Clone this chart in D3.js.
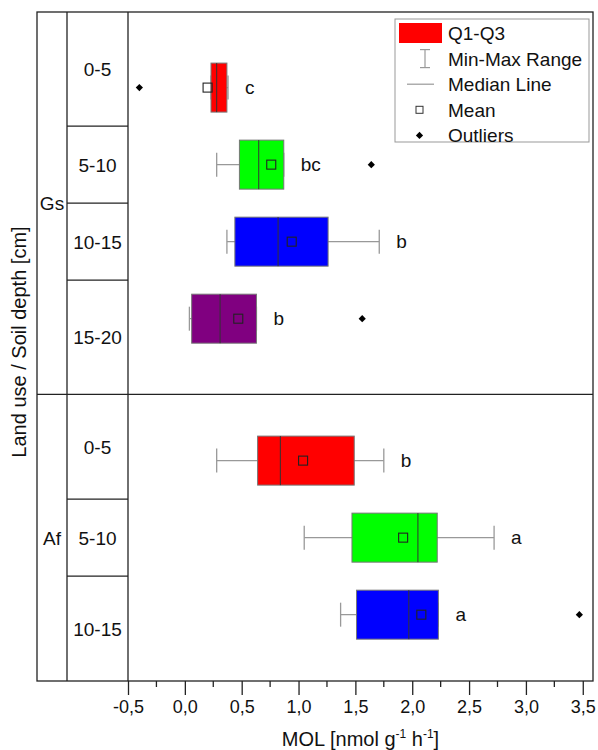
<!DOCTYPE html>
<html>
<head>
<meta charset="utf-8">
<script src="https://cdn.jsdelivr.net/npm/d3@7"></script>
<style>
  body { margin:0; background:#fff; }
  text { font-family: Arial, "Liberation Sans", sans-serif; fill:#111; }
</style>
</head>
<body>
<svg id="chart"></svg>
<script>
// values, one entry per row (top to bottom)
var landUse   = ["Gs","Gs","Gs","Gs","Af","Af","Af"];
var depths    = ["0-5","5-10","10-15","15-20","0-5","5-10","10-15"];
var minVals   = [0.23, 0.28, 0.37, 0.04, 0.28, 1.05, 1.37];
var q1Vals    = [0.23, 0.48, 0.44, 0.06, 0.64, 1.47, 1.51];
var medVals   = [0.28, 0.65, 0.82, 0.31, 0.84, 2.05, 1.97];
var q3Vals    = [0.37, 0.87, 1.26, 0.63, 1.49, 2.22, 2.23];
var maxVals   = [0.38, 0.87, 1.71, 0.63, 1.75, 2.72, 2.23];
var meanVals  = [0.20, 0.76, 0.94, 0.47, 1.04, 1.92, 2.08];
var outliers  = [[-0.40],[1.64],[],[1.56],[],[],[3.47]];
var letters   = ["c","bc","b","b","b","a","a"];
var groups    = ["Gs","Af"];
var xTicks    = [-0.5,0,0.5,1,1.5,2,2.5,3,3.5];
var legendLabels = ["Q1-Q3","Min-Max Range","Median Line","Mean","Outliers"];

var boxColors = ["#ff0000","#00ff00","#0000ff","#800080","#ff0000","#00ff00","#0000ff"];

var w = 598, h = 750;
var margins = {left:128, right:5, top:12, bottom:69};
var frameLeft = 37, groupCol = 67;
var plotH = h - margins.top - margins.bottom;

var svg = d3.select("svg#chart")
            .attr("width",w)
            .attr("height",h);

var xScale = d3.scaleLinear()
               .domain([-0.5,3.59])
               .range([margins.left, w-margins.right]);

// rows: each group gets height proportional to its row count,
// boxes spaced evenly and centred inside the group
var rowUnit = plotH/depths.length;
var step = rowUnit*0.806;
var rows = [];
var groupInfo = [];
var cursor = margins.top;
groups.forEach(function(g){
  var idx = d3.range(depths.length).filter(function(i){ return landUse[i]===g; });
  var gh = idx.length*rowUnit;
  var mid = cursor + gh/2;
  idx.forEach(function(i,k){
    rows[i] = mid + (k-(idx.length-1)/2)*step;
  });
  groupInfo.push({name:g, y0:cursor, y1:cursor+gh, idx:idx});
  cursor += gh;
});
var boxH = 49;

var data = depths.map(function(d,i){
  return {i:i, depth:d, min:minVals[i], q1:q1Vals[i], med:medVals[i],
          q3:q3Vals[i], max:maxVals[i], mean:meanVals[i],
          out:outliers[i], letter:letters[i], color:boxColors[i], y:rows[i]};
});

var loc = d3.formatLocale({decimal:",", thousands:".", grouping:[3], currency:["",""], minus:"-"});
var fmt = loc.format(".1f");

// x axis
var xAxis = d3.axisBottom(xScale)
              .tickValues(xTicks)
              .tickSize(14)
              .tickPadding(5)
              .tickFormat(fmt);
var ax = svg.append("g")
            .classed("xAxis",true)
            .attr("transform","translate(0,"+(margins.top+plotH)+")")
            .call(xAxis);
ax.select(".domain").remove();
ax.selectAll(".tick line").attr("stroke","#222").attr("stroke-width",1.3);
ax.selectAll(".tick text").style("font-size","18px").attr("fill","#111");

ax.selectAll("line.minor")
  .data(xTicks.slice(0,-1).map(function(d){ return d+0.25; }))
  .enter()
  .append("line")
  .classed("minor",true)
  .attr("x1",function(d){ return xScale(d); })
  .attr("x2",function(d){ return xScale(d); })
  .attr("y1",0)
  .attr("y2",6)
  .attr("stroke","#222")
  .attr("stroke-width",1.3);

// frame and category table
var frame = svg.append("g").classed("frame",true)
               .attr("stroke","#222").attr("stroke-width",1.3).attr("fill","none");
var yTop = margins.top, yBot = margins.top+plotH, xRight = w-margins.right;
frame.append("rect")
     .attr("x",frameLeft).attr("y",yTop)
     .attr("width",xRight-frameLeft).attr("height",plotH);
[groupCol, margins.left].forEach(function(x){
  frame.append("line").attr("x1",x).attr("x2",x).attr("y1",yTop).attr("y2",yBot);
});
groupInfo.slice(1).forEach(function(g){
  frame.append("line").attr("x1",frameLeft).attr("x2",xRight).attr("y1",g.y0).attr("y2",g.y0);
});

// depth cell borders sit between neighbouring boxes
var cells = [];
groupInfo.forEach(function(g){
  g.idx.forEach(function(i,k){
    var a = k===0 ? g.y0 : (rows[i]+rows[g.idx[k-1]])/2;
    var b = k===g.idx.length-1 ? g.y1 : (rows[i]+rows[g.idx[k+1]])/2;
    cells.push({i:i, y0:a, y1:b});
    if(k>0){
      frame.append("line").attr("x1",groupCol).attr("x2",margins.left).attr("y1",a).attr("y2",a);
    }
  });
});

svg.selectAll("text.depth")
   .data(cells)
   .enter()
   .append("text")
   .classed("depth",true)
   .attr("x",(groupCol+margins.left)/2)
   .attr("y",function(d){ return (d.y0+d.y1)/2+7; })
   .attr("text-anchor","middle")
   .style("font-size","19px")
   .text(function(d){ return depths[d.i]; });

svg.selectAll("text.group")
   .data(groupInfo)
   .enter()
   .append("text")
   .classed("group",true)
   .attr("x",(frameLeft+groupCol)/2)
   .attr("y",function(d){ return (d.y0+d.y1)/2+7; })
   .attr("text-anchor","middle")
   .style("font-size","19px")
   .text(function(d){ return d.name; });

// boxes
var plot = svg.append("g").classed("plot",true);
var boxes = plot.selectAll("g.box")
                .data(data)
                .enter()
                .append("g")
                .classed("box",true);

boxes.append("line")
     .attr("x1",function(d){ return xScale(d.min); })
     .attr("x2",function(d){ return xScale(d.max); })
     .attr("y1",function(d){ return d.y; })
     .attr("y2",function(d){ return d.y; })
     .attr("stroke","#999").attr("stroke-width",1.3);
boxes.selectAll("line.cap")
     .data(function(d){ return [{v:d.min,y:d.y},{v:d.max,y:d.y}]; })
     .enter()
     .append("line")
     .classed("cap",true)
     .attr("x1",function(d){ return xScale(d.v); })
     .attr("x2",function(d){ return xScale(d.v); })
     .attr("y1",function(d){ return d.y-12; })
     .attr("y2",function(d){ return d.y+12; })
     .attr("stroke","#999").attr("stroke-width",1.3);

boxes.append("rect")
     .attr("x",function(d){ return xScale(d.q1); })
     .attr("y",function(d){ return d.y-boxH/2; })
     .attr("width",function(d){ return xScale(d.q3)-xScale(d.q1); })
     .attr("height",boxH)
     .attr("fill",function(d){ return d.color; })
     .attr("stroke","#777").attr("stroke-width",1);

boxes.append("line")
     .attr("x1",function(d){ return xScale(d.med); })
     .attr("x2",function(d){ return xScale(d.med); })
     .attr("y1",function(d){ return d.y-boxH/2; })
     .attr("y2",function(d){ return d.y+boxH/2; })
     .attr("stroke","#333").attr("stroke-width",1);

boxes.append("rect")
     .attr("x",function(d){ return xScale(d.mean)-4.5; })
     .attr("y",function(d){ return d.y-4.5; })
     .attr("width",9).attr("height",9)
     .attr("fill","none")
     .attr("stroke","#222").attr("stroke-width",1.1);

// outlier marker: a small square turned 45 degrees
var diamond = d3.symbol().type(d3.symbolSquare).size(26);
boxes.selectAll("path.outlier")
     .data(function(d){ return d.out.map(function(v){ return {v:v,y:d.y}; }); })
     .enter()
     .append("path")
     .classed("outlier",true)
     .attr("d",diamond)
     .attr("transform",function(d){ return "translate("+xScale(d.v)+","+d.y+") rotate(45)"; })
     .attr("fill","#000");

boxes.append("text")
     .attr("x",function(d){ return xScale(Math.max(d.max,d.q3))+17; })
     .attr("y",function(d){ return d.y+6; })
     .style("font-size","19px")
     .text(function(d){ return d.letter; });

// legend
var legend = svg.append("g").classed("legend",true);
legend.append("rect")
      .attr("x",395).attr("y",19).attr("width",194).attr("height",123)
      .attr("fill","#fff").attr("stroke","#999").attr("stroke-width",1);
var legendLines = legend.selectAll("g.legendLines")
                        .data(legendLabels)
                        .enter()
                        .append("g")
                        .classed("legendLines",true)
                        .attr("transform",function(d,i){ return "translate(0,"+(33+25.6*i)+")"; });
legendLines.append("text")
           .attr("x",448).attr("y",7)
           .style("font-size","19px")
           .text(function(d){ return d; });
legend.select(".legendLines:nth-child(2)")
      .append("rect")
      .attr("x",399).attr("y",-10).attr("width",43).attr("height",20)
      .attr("fill","#ff0000");
var mm = legend.select(".legendLines:nth-child(3)")
               .append("g").attr("stroke","#999").attr("stroke-width",1.2);
mm.append("line").attr("x1",425).attr("x2",425).attr("y1",-9).attr("y2",9);
mm.append("line").attr("x1",420).attr("x2",430).attr("y1",-9).attr("y2",-9);
mm.append("line").attr("x1",420).attr("x2",430).attr("y1",9).attr("y2",9);
legend.select(".legendLines:nth-child(4)")
      .append("line").attr("x1",407).attr("x2",434).attr("y1",0).attr("y2",0)
      .attr("stroke","#999").attr("stroke-width",1.2);
legend.select(".legendLines:nth-child(5)")
      .append("rect").attr("x",416).attr("y",-3.5).attr("width",7).attr("height",7)
      .attr("fill","none").attr("stroke","#333").attr("stroke-width",1);
legend.select(".legendLines:nth-child(6)")
      .append("path").attr("d",diamond).attr("transform","translate(419.5,0) rotate(45)")
      .attr("fill","#000");

// axis titles
var xt = svg.append("text")
            .attr("x",(margins.left+xRight)/2)
            .attr("y",746)
            .attr("text-anchor","middle")
            .style("font-size","20px");
xt.append("tspan").text("MOL [nmol g");
xt.append("tspan").attr("dy",-8).style("font-size","12px").text("-1");
xt.append("tspan").attr("dy",8).text(" h");
xt.append("tspan").attr("dy",-8).style("font-size","12px").text("-1");
xt.append("tspan").attr("dy",8).text("]");

svg.append("text")
   .attr("transform","translate(26,342) rotate(-90)")
   .attr("text-anchor","middle")
   .style("font-size","20px")
   .text("Land use / Soil depth [cm]");
</script>
</body>
</html>
